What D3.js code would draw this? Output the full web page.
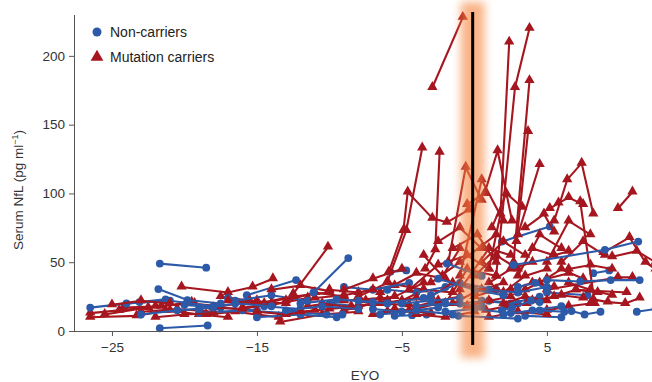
<!DOCTYPE html>
<html>
<head>
<meta charset="utf-8">
<script src="https://cdn.jsdelivr.net/npm/d3@7"></script>
<style>
body { margin: 0; background: #fff; }
svg { display: block; font-family: "Liberation Sans", Arial, sans-serif; }
</style>
</head>
<body>
<svg id="chart"></svg>
<script>
// tick values
var xTicks = [-25, -15, -5, 5];
var yTicks = [0, 50, 100, 150, 200];
var onsetEYO = -0.12;

// non-carriers: one array of [EYO, NfL] visits per participant
var nonCarriers = [
	[[-21.7,49],[-18.5,46]],
	[[-21.7,2],[-18.4,4]],
	[[-26.5,17],[-23.1,21],[-21.3,23]],
	[[-21.8,30.5],[-19.8,22.5],[-17.5,20]],
	[[-15.7,26],[-12.3,37]],
	[[-11.1,28],[-8.7,53]],
	[[-5.5,11],[-4.3,11.5],[-3.3,12]],
	[[-1.1,11],[3.0,9]],
	[[-5.8,43],[-4.7,44]],
	[[-1.9,49],[0.5,40]],
	[[1.9,65],[5.2,76]],
	[[2.7,48],[9.0,59],[11.3,65]],
	[[8.2,42],[9.3,44]],
	[[5.0,37],[7.3,36],[9.4,37],[11.4,37]],
	[[5.0,28],[7.8,26]],
	[[4.5,15],[6.2,14],[6.7,14.5],[7.6,12],[8.7,14]],
	[[11.2,14],[12.5,16]],
	[[1.9,15],[2.6,17],[3.9,22],[4.5,21]],
	[[-24,20],[-21,22],[-18,18]],
	[[-19,16],[-16.5,20],[-14,18]],
	[[-17,24],[-14.5,18],[-12,16]],
	[[-13,15],[-10.5,18],[-8,16]],
	[[-12.5,14],[-10.2,12],[-9.1,12]],
	[[-8,22],[-6,20],[-3.5,24]],
	[[-6,30],[-4,28],[-2,32]],
	[[-4,18],[-2,20],[0.5,18]],
	[[-3,26],[-1,35],[1.5,30]],
	[[-2,14],[0,16],[2.5,13]],
	[[0.5,22],[2.5,20],[4.5,25]],
	[[1,30],[3,28],[5,32]],
	[[-15,10],[-12,12],[-9.5,10]],
	[[-23,12],[-20.5,15],[-18,17]],
	[[-20,19],[-17.5,17],[-15,15]],
	[[-12,20],[-9.5,23],[-7,21]],
	[[-9,32],[-7,30],[-4.5,35]],
	[[-2.5,38],[0,30],[2,26]],
	[[3.5,11],[6,10]],
	[[3,32],[4.2,35],[5,30]],
	[[-16.5,22],[-14,26],[-11.5,22]],
	[[-7,16],[-5,14],[-2.5,17]],
	[[-10,20],[-8,18],[-6,22]],
	[[-5,20],[-3,22],[-1,24]],
	[[-1,20],[1,22],[3,20]],
	[[2,12],[4,15],[6,18]],
	[[-19,13],[-16,15],[-13,13]],
	[[-6.5,12],[-4,15],[-1.5,12]]
];

// mutation carriers
var carriers = [
	[[-26.5,10],[-23.3,11],[-21.3,15]],
	[[-26.5,13],[-24.5,15],[-22.5,17]],
	[[-25.5,12],[-22.0,18],[-19.3,20]],
	[[-24.2,17],[-21.6,18],[-19.5,21]],
	[[-23.0,14],[-20.5,16],[-18.0,14]],
	[[-20.2,32],[-17.0,28],[-15.3,32],[-13.9,38]],
	[[-21.0,15],[-19.0,12],[-17.0,10]],
	[[-19.5,20],[-17.5,18],[-15.0,22]],
	[[-18.5,12],[-16.5,14],[-13.5,10]],
	[[-17.5,25],[-15.5,22],[-13.0,20]],
	[[-16.0,17],[-14.0,19],[-11.5,24]],
	[[-13.4,6.5],[-10.5,12],[-8.0,14]],
	[[-14.5,20],[-12.5,25],[-10.0,28]],
	[[-12.5,27],[-10.1,61]],
	[[-11.5,18],[-9.0,22],[-6.5,24]],
	[[-10,30],[-8,28],[-5.5,33]],
	[[-9,15],[-7,20],[-4.5,19]],
	[[-8,25],[-6,35],[-3.5,30]],
	[[-7,12],[-5.5,16],[-3,13]],
	[[-6.5,28],[-4,42],[-2,38]],
	[[-5,22],[-3.5,30],[-1.5,28]],
	[[-6,36],[-4.7,73],[-3.6,133]],
	[[-3.4,45],[-2.7,59],[-2.4,130]],
	[[-2.9,177],[-0.8,228]],
	[[-5.9,43],[-4.9,73],[-4.6,101],[-2.9,82],[-1.9,79],[-0.4,88]],
	[[-1.8,50],[-0.6,119],[0.5,95]],
	[[-3,25],[-1.5,35],[0.5,30]],
	[[-2,20],[-0.5,45],[1.5,40]],
	[[-1,30],[1,60],[2.5,55]],
	[[1.0,45],[1.8,85],[2.4,210]],
	[[1.5,40],[2.8,177],[3.8,220]],
	[[2.7,50],[3.8,182]],
	[[2.9,65],[3.7,145]],
	[[3.0,70],[4.5,121]],
	[[-0.5,92],[0.7,100],[1.6,131],[2.6,80]],
	[[5.5,80],[6.4,110],[7.4,122],[8.2,85]],
	[[9.9,89],[10.9,101]],
	[[5.2,89],[5.8,93],[6.5,97],[7.5,92]],
	[[8.9,57],[10.7,68],[11.8,50],[12.5,45]],
	[[8.2,23],[9.2,21],[10.4,20],[11.4,24]],
	[[5.0,30],[9.9,39],[10.9,39]],
	[[7.0,30],[10.5,28]],
	[[7.3,94],[8.3,20]],
	[[4.0,60],[5.5,55],[6.5,58]],
	[[0,25],[1.5,30],[3,28]],
	[[0.5,50],[2,65],[3.5,55]],
	[[1,35],[2.5,45],[4,50]],
	[[2,20],[3.5,25],[5,22]],
	[[3,40],[4.5,70],[6,60]],
	[[3.5,75],[4.8,85],[5.5,72]],
	[[-1.5,60],[0.2,70],[1.5,50]],
	[[4.5,35],[6,45],[7.5,38]],
	[[5.5,25],[7,30],[8.5,28]],
	[[6,50],[7.5,65],[9,55]],
	[[0.8,15],[2.2,18],[3.6,20]],
	[[-0.5,18],[1,22],[2.5,25]],
	[[-4,18],[-2.5,22],[-1,25]],
	[[-6,14],[-4.5,15],[-2.5,20]],
	[[-8.5,18],[-6.5,20],[-4,24]],
	[[-10.5,20],[-8.5,17],[-6,22]],
	[[-12,14],[-10,16],[-8,18]],
	[[-15,14],[-13,12],[-11,15]],
	[[-17,22],[-15,20],[-12.5,25]],
	[[-22,10],[-20,12],[-18,13]],
	[[-25,19],[-23,22],[-21,20]],
	[[-14,30],[-12,33],[-10,29]],
	[[-3.5,55],[-2.2,40],[-1,60]],
	[[-1,40],[0.5,110],[2,80]],
	[[1.2,75],[2.2,100],[3.3,90]],
	[[2.5,30],[4,35],[5.5,32]],
	[[9.5,54],[11.2,58],[12.5,50]],
	[[6.5,35],[8.0,30],[9.5,26]],
	[[5,15],[6.5,18],[8,20]],
	[[-4.5,30],[-2.5,48],[-0.5,55],[1,45]],
	[[-3,35],[-1,50],[1.5,70]],
	[[-2.5,65],[-1,75],[0.5,60]],
	[[-1.5,20],[0,28],[2,35]],
	[[0,40],[1.5,55],[3,45]],
	[[2,28],[3.5,40],[5,45]],
	[[3.5,30],[5,38],[6.5,42]],
	[[4,22],[6,26],[7.5,24]],
	[[-9,30],[-7,38],[-5,45]],
	[[-7.5,22],[-5.5,25],[-3.5,35]],
	[[-13,22],[-11,28],[-9,25]],
	[[-11,24],[-9,26],[-7,30]],
	[[-18,17],[-16,16],[-14,20]],
	[[-4,12],[-2,10],[0,14]],
	[[1,10],[3,14],[5,12]],
	[[5,50],[6.5,80],[8,70]],
	[[6.5,45],[8,48],[9.5,45]]
];

var width = 652, height = 382,
	blue = "#2c5aa8", red = "#a5161f";

var svg = d3.select("#chart").attr("width", width).attr("height", height);

var x = d3.scaleLinear().domain([-27.55, 12.25]).range([75, 652]);
var y = d3.scaleLinear().domain([0, 229.7]).range([331, 15]);

//glow filter
svg.append("defs").append("filter").attr("id", "glow")
	.attr("x", "-200%").attr("y", "-20%").attr("width", "500%").attr("height", "140%")
	.append("feGaussianBlur").attr("stdDeviation", 4.5);

svg.append("clipPath").attr("id", "plotclip").append("rect")
	.attr("x", 0).attr("y", 0).attr("width", width).attr("height", 340);

var g = svg.append("g").attr("clip-path", "url(#plotclip)");
var line = d3.line().x(function(d) { return x(d[0]); }).y(function(d) { return y(d[1]); });

//interleave both groups so that neither is always on top
var subjects = [];
var n = Math.max(nonCarriers.length, carriers.length);
for (var i = 0; i < n; i++) {
	if (carriers[i]) subjects.push({ mc: true, pts: carriers[i] });
	if (nonCarriers[i] && i % 2 === 0) subjects.push({ mc: false, pts: nonCarriers[i] });
}
for (var i = 1; i < nonCarriers.length; i += 2) subjects.push({ mc: false, pts: nonCarriers[i] });

var tri = d3.symbol().type(d3.symbolTriangle).size(46);

subjects.forEach(function(s) {
	var col = s.mc ? red : blue;
	g.append("path").attr("d", line(s.pts))
		.attr("fill", "none").attr("stroke", col).attr("stroke-width", 2.1);
	if (s.mc) {
		g.selectAll(null).data(s.pts).enter().append("path")
			.attr("d", tri)
			.attr("transform", function(d) { return "translate(" + x(d[0]) + "," + (y(d[1]) - 0.5) + ")"; })
			.attr("fill", col);
	} else {
		g.selectAll(null).data(s.pts).enter().append("circle")
			.attr("cx", function(d) { return x(d[0]); })
			.attr("cy", function(d) { return y(d[1]); })
			.attr("r", 3.9).attr("fill", col);
	}
});

//axes
var ax = svg.append("g").attr("transform", "translate(0,331)")
	.call(d3.axisBottom(x).tickValues(xTicks).tickSize(5).tickPadding(6));
var ay = svg.append("g").attr("transform", "translate(74,0)")
	.call(d3.axisLeft(y).tickValues(yTicks).tickSize(5).tickPadding(4));
ax.select(".domain").attr("d", "M74,0.5H652");
ay.select(".domain").attr("d", "M0.5,15V331");
[ax, ay].forEach(function(a) {
	a.selectAll(".domain, .tick line").attr("stroke", "#555");
	a.selectAll("text").attr("fill", "#333").style("font-size", "13.5px");
	a.attr("font-family", null);
});

//onset marker: orange glow and black line
svg.append("rect")
	.attr("x", x(onsetEYO) - 12).attr("y", 2).attr("width", 24).attr("height", 356)
	.attr("fill", "#f68640").attr("opacity", 0.62).attr("filter", "url(#glow)");
svg.append("line")
	.attr("x1", x(onsetEYO)).attr("x2", x(onsetEYO)).attr("y1", 12).attr("y2", 345)
	.attr("stroke", "#000").attr("stroke-width", 3);

//axis titles
svg.append("text").attr("x", 365).attr("y", 380).attr("text-anchor", "middle")
	.attr("fill", "#333").style("font-size", "13.5px").text("EYO");
var yl = svg.append("text").attr("transform", "translate(23,190) rotate(-90)")
	.attr("text-anchor", "middle").attr("fill", "#333").style("font-size", "13.5px");
yl.append("tspan").text("Serum NfL (pg ml");
yl.append("tspan").attr("dy", -5).style("font-size", "9px").text("−1");
yl.append("tspan").attr("dy", 5).text(")");

//legend
var lg = svg.append("g");
lg.append("circle").attr("cx", 97).attr("cy", 32).attr("r", 4.5).attr("fill", blue);
lg.append("path").attr("d", d3.symbol().type(d3.symbolTriangle).size(70))
	.attr("transform", "translate(97,57)").attr("fill", red);
lg.append("text").attr("x", 110).attr("y", 37).attr("fill", "#222").style("font-size", "14px").text("Non-carriers");
lg.append("text").attr("x", 110).attr("y", 62).attr("fill", "#222").style("font-size", "14px").text("Mutation carriers");
</script>
</body>
</html>
